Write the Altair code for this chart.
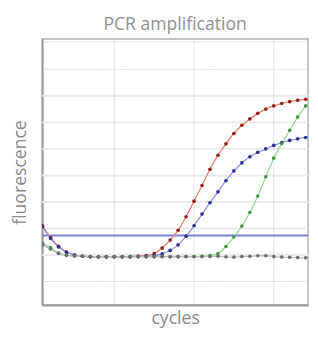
import altair as alt
import pandas as pd

cycles = list(range(1, 35))
red = [2.10, 1.66, 1.33, 1.11, 1.00, 0.95, 0.94, 0.93, 0.93, 0.93, 0.93, 0.94, 0.96, 0.98,
       1.05, 1.26, 1.56, 1.93, 2.44, 3.03, 3.62, 4.23, 4.76, 5.19, 5.58, 5.89, 6.13, 6.34,
       6.50, 6.62, 6.71, 6.78, 6.83, 6.87]
blue = [2.05, 1.62, 1.30, 1.10, 1.00, 0.95, 0.93, 0.93, 0.93, 0.93, 0.93, 0.93, 0.94, 0.95,
        0.97, 1.04, 1.17, 1.38, 1.71, 2.10, 2.54, 2.97, 3.38, 3.80, 4.17, 4.47, 4.70, 4.87,
        5.00, 5.13, 5.24, 5.32, 5.38, 5.43]
green = [1.44, 1.28, 1.07, 0.99, 0.96, 0.95, 0.94, 0.94, 0.94, 0.94, 0.94, 0.94, 0.94, 0.94,
         0.94, 0.94, 0.94, 0.94, 0.94, 0.94, 0.95, 0.98, 1.05, 1.32, 1.68, 2.09, 2.60, 3.22,
         3.95, 4.65, 5.20, 5.70, 6.20, 6.62]
gray = [1.38, 1.22, 1.06, 0.98, 0.96, 0.95, 0.94, 0.93, 0.93, 0.94, 0.93, 0.93, 0.94, 0.93,
        0.93, 0.94, 0.93, 0.93, 0.94, 0.94, 0.94, 0.94, 0.95, 0.93, 0.92, 0.94, 0.95, 0.97,
        0.97, 0.94, 0.92, 0.91, 0.90, 0.89]
threshold = 1.73

series_names = ["red", "blue", "green", "gray"]
series_vals = [red, blue, green, gray]
line_colors = ["#e0806e", "#9095e0", "#98d898", "#bbbbbb"]
point_colors = ["#8e2020", "#2c308c", "#4f8f4f", "#6f6f6f"]

grid_dotted_y = [0, 8, 9.03]
grid_dotted_x = [10, 20, 30]
grid_faint_y = [1, 2, 3, 4, 5, 6, 7]

rows = []
for name, vals in zip(series_names, series_vals):
    for c, v in zip(cycles, vals):
        rows.append({"series": name, "cycle": c, "value": v})
df = pd.DataFrame(rows)

xs = alt.Scale(domain=[0.95, 34.3], nice=False, zero=False)
ys = alt.Scale(domain=[-0.885, 9.14], nice=False, zero=False)

xaxis = alt.Axis(title="cycles", labels=False, ticks=False, grid=False, domain=True,
                 domainColor="#9a9a9a", domainWidth=2, titleFont="Open Sans",
                 titleFontSize=18, titleFontWeight="normal", titleColor="#8a8a8a",
                 titlePadding=5)
yaxis = alt.Axis(title="fluorescence", labels=False, ticks=False, grid=False, domain=True,
                 domainColor="#9a9a9a", domainWidth=2, titleFont="Open Sans",
                 titleFontSize=18, titleFontWeight="normal", titleColor="#8a8a8a",
                 titlePadding=13)

faint = alt.Chart(pd.DataFrame({"y": grid_faint_y})).mark_rule(
    color="#ebebeb", strokeWidth=2).encode(y=alt.Y("y:Q", scale=ys, axis=yaxis))
dot_y = alt.Chart(pd.DataFrame({"y": grid_dotted_y})).mark_rule(
    color="#cccccc", strokeWidth=1, strokeDash=[1, 1]).encode(y=alt.Y("y:Q", scale=ys))
dot_x = alt.Chart(pd.DataFrame({"x": grid_dotted_x})).mark_rule(
    color="#cccccc", strokeWidth=1, strokeDash=[1, 1]).encode(x=alt.X("x:Q", scale=xs, axis=xaxis))
thr = alt.Chart(pd.DataFrame({"y": [threshold]})).mark_rule(
    color="#7c82d8", strokeWidth=2).encode(y=alt.Y("y:Q", scale=ys))

lines = alt.Chart(df).mark_line(strokeWidth=1.3, interpolate="monotone", clip=True).encode(
    x=alt.X("cycle:Q", scale=xs),
    y=alt.Y("value:Q", scale=ys),
    color=alt.Color("series:N", scale=alt.Scale(domain=series_names, range=line_colors), legend=None),
    detail="series:N",
)
points = alt.Chart(df).mark_circle(size=14, opacity=1, clip=True).encode(
    x=alt.X("cycle:Q", scale=xs),
    y=alt.Y("value:Q", scale=ys),
    color=alt.Color("series:N", scale=alt.Scale(domain=series_names, range=point_colors), legend=None),
)

chart = alt.layer(faint, dot_y, dot_x, thr, lines, points).resolve_scale(color="independent").properties(
    width=272, height=272,
    autosize=alt.AutoSizeParams(type="none"),
    padding={"left": 35, "top": 28, "right": 2, "bottom": 30},
    title=alt.TitleParams("PCR amplification", font="Open Sans", fontSize=18,
                          fontWeight="normal", color="#909090", offset=5),
).configure_view(stroke="#b0b0b0", strokeWidth=1.5)

chart.save("out.html", embed_options={"renderer": "svg", "actions": False})
